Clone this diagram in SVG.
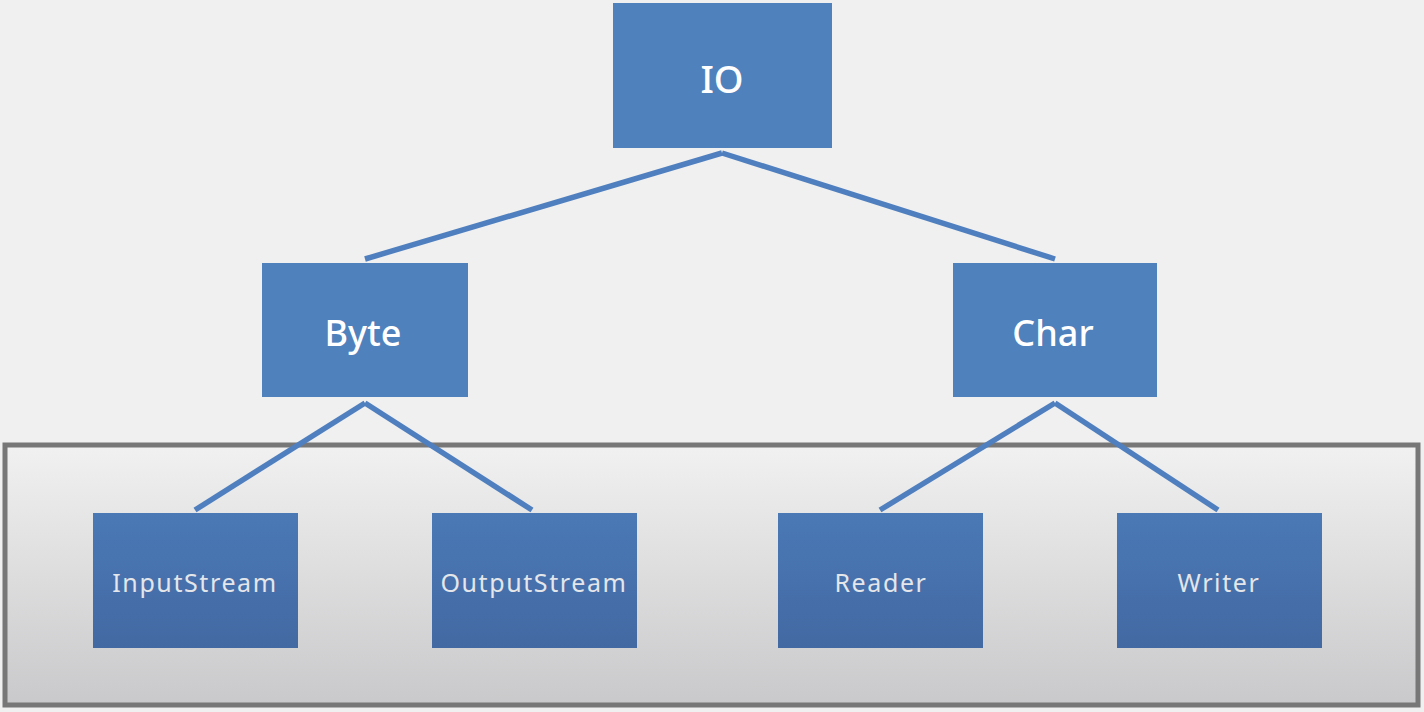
<svg xmlns="http://www.w3.org/2000/svg" width="1424" height="712" viewBox="0 0 1424 712">
<defs>
<linearGradient id="band" x1="0" y1="0" x2="0" y2="1">
<stop offset="0" stop-color="#f1f1f1"/>
<stop offset="1" stop-color="#c9c9cb"/>
</linearGradient>
<linearGradient id="leaf" x1="0" y1="0" x2="0" y2="1">
<stop offset="0" stop-color="#4a79b6"/>
<stop offset="1" stop-color="#4369a2"/>
</linearGradient>
</defs>
<style>
.top{fill:#4f81bd}
.leaf{fill:url(#leaf)}
.conn{stroke:#4f7fbe;stroke-width:5.5;fill:none;stroke-linecap:butt}
.t{font-family:"Noto Sans","Open Sans",sans-serif;text-anchor:middle;dominant-baseline:central}
.tt{fill:#ffffff;font-weight:500}
.lt{fill:#e4e6ea;font-size:25px;letter-spacing:1.6px}
</style>
<rect x="0" y="0" width="1424" height="712" fill="#f0f0f0"/>
<rect id="band-box" x="5" y="445" width="1413" height="260" fill="url(#band)" stroke="#777777" stroke-width="5"/>
<g id="connectors">
<line class="conn" x1="722" y1="153" x2="365" y2="259"/>
<line class="conn" x1="722" y1="153" x2="1055" y2="259"/>
<line class="conn" x1="365" y1="403" x2="195" y2="510"/>
<line class="conn" x1="365" y1="403" x2="532" y2="510"/>
<line class="conn" x1="1055" y1="403" x2="880" y2="510"/>
<line class="conn" x1="1055" y1="403" x2="1218" y2="510"/>
</g>
<g id="io"><rect class="top" x="613" y="3" width="219" height="145"/><text class="t tt" x="722" y="78" font-size="38">IO</text></g>
<g id="byte"><rect class="top" x="262" y="263" width="206" height="134"/><text class="t tt" x="363" y="332" font-size="36">Byte</text></g>
<g id="char"><rect class="top" x="953" y="263" width="204" height="134"/><text class="t tt" x="1053" y="332" font-size="36">Char</text></g>
<g id="inputstream"><rect class="leaf" x="93" y="513" width="205" height="135"/><text class="t lt" x="195" y="582">InputStream</text></g>
<g id="outputstream"><rect class="leaf" x="432" y="513" width="205" height="135"/><text class="t lt" x="534" y="582">OutputStream</text></g>
<g id="reader"><rect class="leaf" x="778" y="513" width="205" height="135"/><text class="t lt" x="881" y="582">Reader</text></g>
<g id="writer"><rect class="leaf" x="1117" y="513" width="205" height="135"/><text class="t lt" x="1219" y="582">Writer</text></g>
</svg>
